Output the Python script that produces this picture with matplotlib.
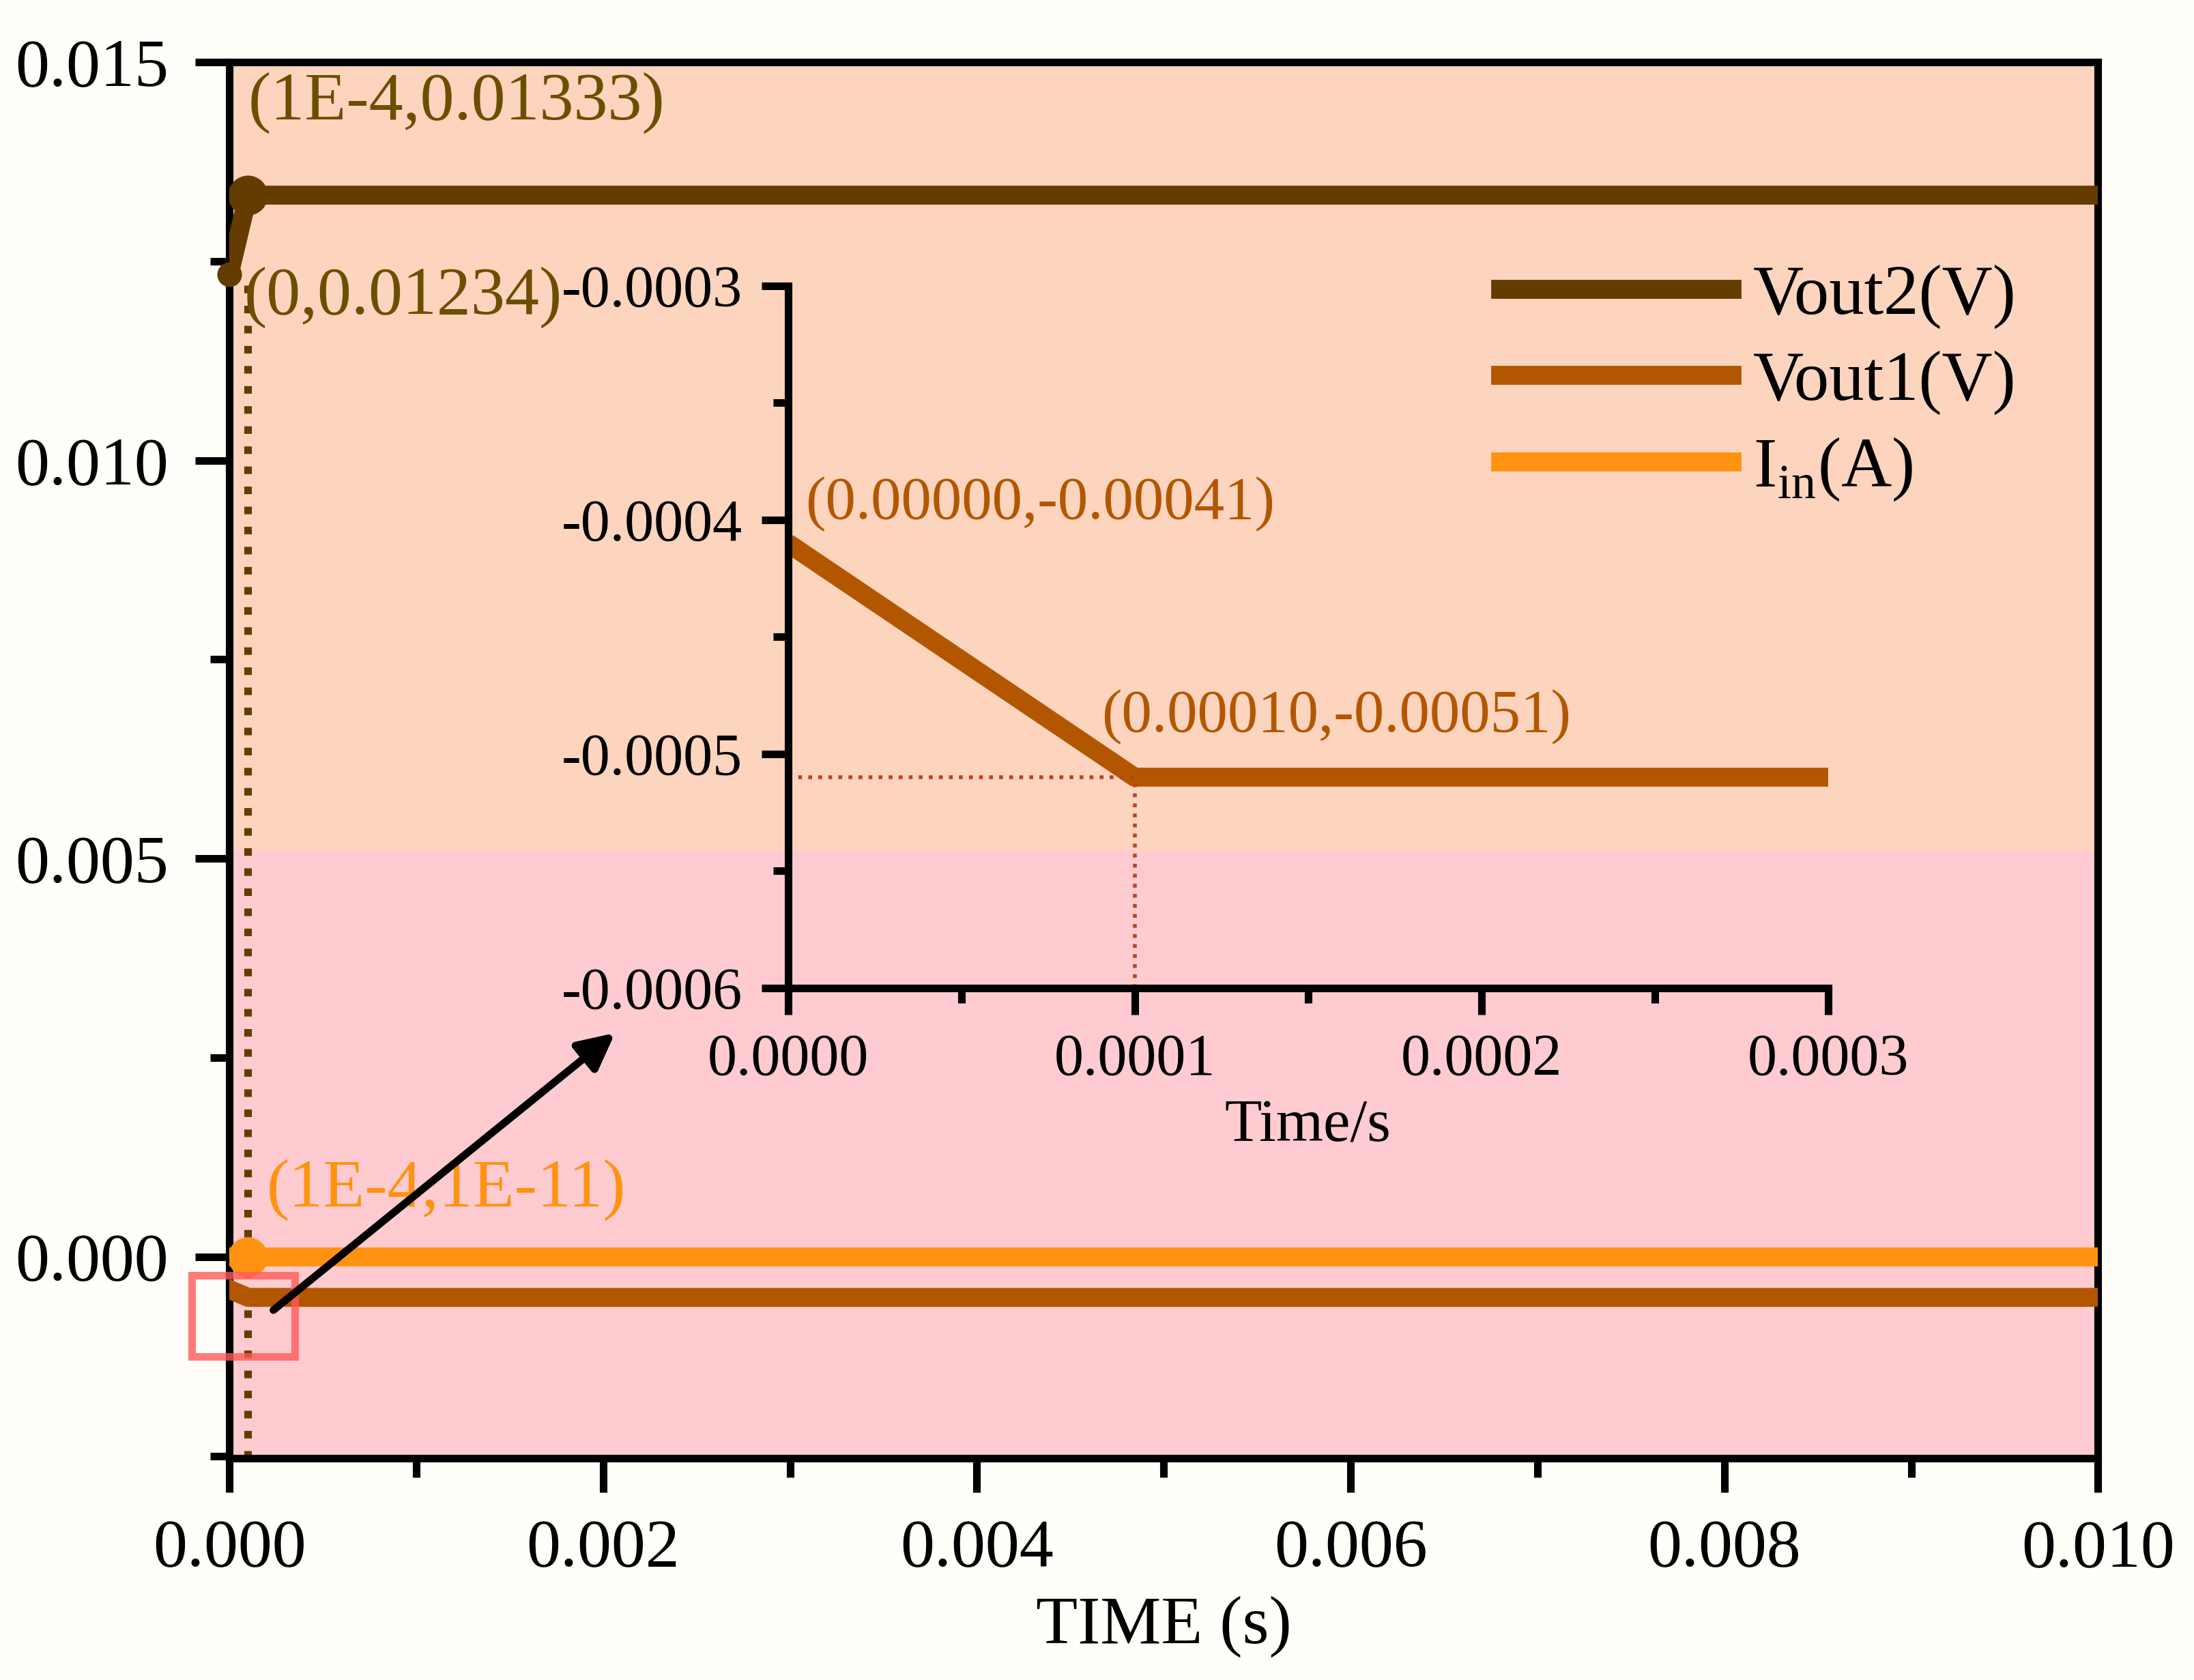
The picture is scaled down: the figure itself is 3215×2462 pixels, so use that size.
import matplotlib.pyplot as plt
from matplotlib.patches import Rectangle

plt.rcParams["font.family"] = ["Liberation Serif", "DejaVu Serif"]
plt.rcParams["mathtext.fontset"] = "custom"
plt.rcParams["mathtext.rm"] = "Liberation Serif"

t = [0.0, 1e-4, 0.01]
vout2 = [0.01234, 0.01333, 0.01333]
vout1 = [-0.00041, -0.00051, -0.00051]
iin = [0.0, 1e-11, 1e-11]

t_in = [0.0, 1e-4, 3e-4]
vout1_in = [-0.00041, -0.00051, -0.00051]

c2, c1, ci = "#653C00", "#B35600", "#FF9210"

fig = plt.figure(figsize=(16.08, 12.31), dpi=200, facecolor="#FFFEF8")
ax = fig.add_axes([0.1045, 0.132, 0.8515, 0.831])
ax.set_xlim(0, 0.010)
ax.set_ylim(-0.00253, 0.015)
ax.axhspan(0.0051, 0.015, color="#FDD4BE", zorder=0)
ax.axhspan(-0.003, 0.0051, color="#FECCD0", zorder=0)

ax.plot(t, vout2, color=c2, lw=10, label="Vout2(V)", zorder=3)
ax.plot(t, vout1, color=c1, lw=10, label="Vout1(V)", zorder=3)
ax.plot(t, iin, color=ci, lw=10, label=r"I$_{\mathrm{in}}$(A)", zorder=3)
ax.plot([t[1]], [vout2[1]], "o", color=c2, ms=20, zorder=4)
ax.plot([t[0]], [vout2[0]], "o", color=c2, ms=12, zorder=4, clip_on=False)
ax.plot([t[1]], [iin[1]], "o", color=ci, ms=20, zorder=4)
ax.plot([1e-4, 1e-4], [-0.00253, vout2[0]], ":", color=c2, lw=4, zorder=2)

ax.text(0.0001, 0.0141, "(1E-4,0.01333)", color="#6B4F00", fontsize=36, ha="left", va="bottom")
ax.text(0.00008, 0.01205, "(0,0.01234)", color="#6B4F00", fontsize=36, ha="left", va="center")
ax.text(0.0002, 0.00045, "(1E-4,1E-11)", color=ci, fontsize=36, ha="left", va="bottom")

ax.add_patch(Rectangle((-0.0002, -0.00125), 0.00055, 0.00102, fill=False,
                       edgecolor="#FF5A5A", lw=4, alpha=0.8, clip_on=False, zorder=5))
ax.annotate("", xy=(0.00208, 0.00284), xytext=(0.00022, -0.0007),
            arrowprops=dict(arrowstyle="-|>", color="black", lw=4, mutation_scale=40), zorder=6)

ax.set_xticks([0, 0.002, 0.004, 0.006, 0.008, 0.010])
ax.set_xticklabels(["0.000", "0.002", "0.004", "0.006", "0.008", "0.010"])
ax.set_xticks([0.001, 0.003, 0.005, 0.007, 0.009], minor=True)
ax.set_yticks([0, 0.005, 0.010, 0.015])
ax.set_yticklabels(["0.000", "0.005", "0.010", "0.015"])
ax.set_yticks([-0.0025, 0.0025, 0.0075, 0.0125], minor=True)
ax.tick_params(labelsize=36, width=4, length=18, pad=14)
ax.tick_params(which="minor", width=4, length=10)
for s in ax.spines.values():
    s.set_linewidth(4)
ax.set_xlabel("TIME (s)", fontsize=36, labelpad=8)
ax.legend(loc="upper right", bbox_to_anchor=(0.99, 0.9), frameon=False, fontsize=37,
          handlelength=3.3, labelspacing=0.3, handletextpad=0.3)

ins = fig.add_axes([0.359, 0.412, 0.474, 0.418])
ins.patch.set_alpha(0)
ins.set_xlim(0, 0.0003)
ins.set_ylim(-0.0006, -0.0003)
ins.plot(t_in, vout1_in, color=c1, lw=10, solid_capstyle="butt")
ins.plot([0, 1e-4], [-0.00051, -0.00051], ":", color="#C04020", lw=2)
ins.plot([1e-4, 1e-4], [-0.0006, -0.00051], ":", color="#C04020", lw=2)
ins.text(0.000005, -0.000405, "(0.00000,-0.00041)", color=c1, fontsize=32, ha="left", va="bottom")
ins.text(0.0000905, -0.000496, "(0.00010,-0.00051)", color=c1, fontsize=32, ha="left", va="bottom")
ins.spines["top"].set_visible(False)
ins.spines["right"].set_visible(False)
for s in ["left", "bottom"]:
    ins.spines[s].set_linewidth(4)
ins.set_xticks([0, 0.0001, 0.0002, 0.0003])
ins.set_xticklabels(["0.0000", "0.0001", "0.0002", "0.0003"])
ins.set_xticks([0.00005, 0.00015, 0.00025], minor=True)
ins.set_yticks([-0.0006, -0.0005, -0.0004, -0.0003])
ins.set_yticklabels(["-0.0006", "-0.0005", "-0.0004", "-0.0003"])
ins.set_yticks([-0.00055, -0.00045, -0.00035], minor=True)
ins.tick_params(labelsize=31, width=4, length=14, pad=10)
ins.tick_params(which="minor", width=4, length=8)
ins.set_xlabel("Time/s", fontsize=32, labelpad=6)

fig.savefig("out.png", dpi=200, facecolor=fig.get_facecolor())
